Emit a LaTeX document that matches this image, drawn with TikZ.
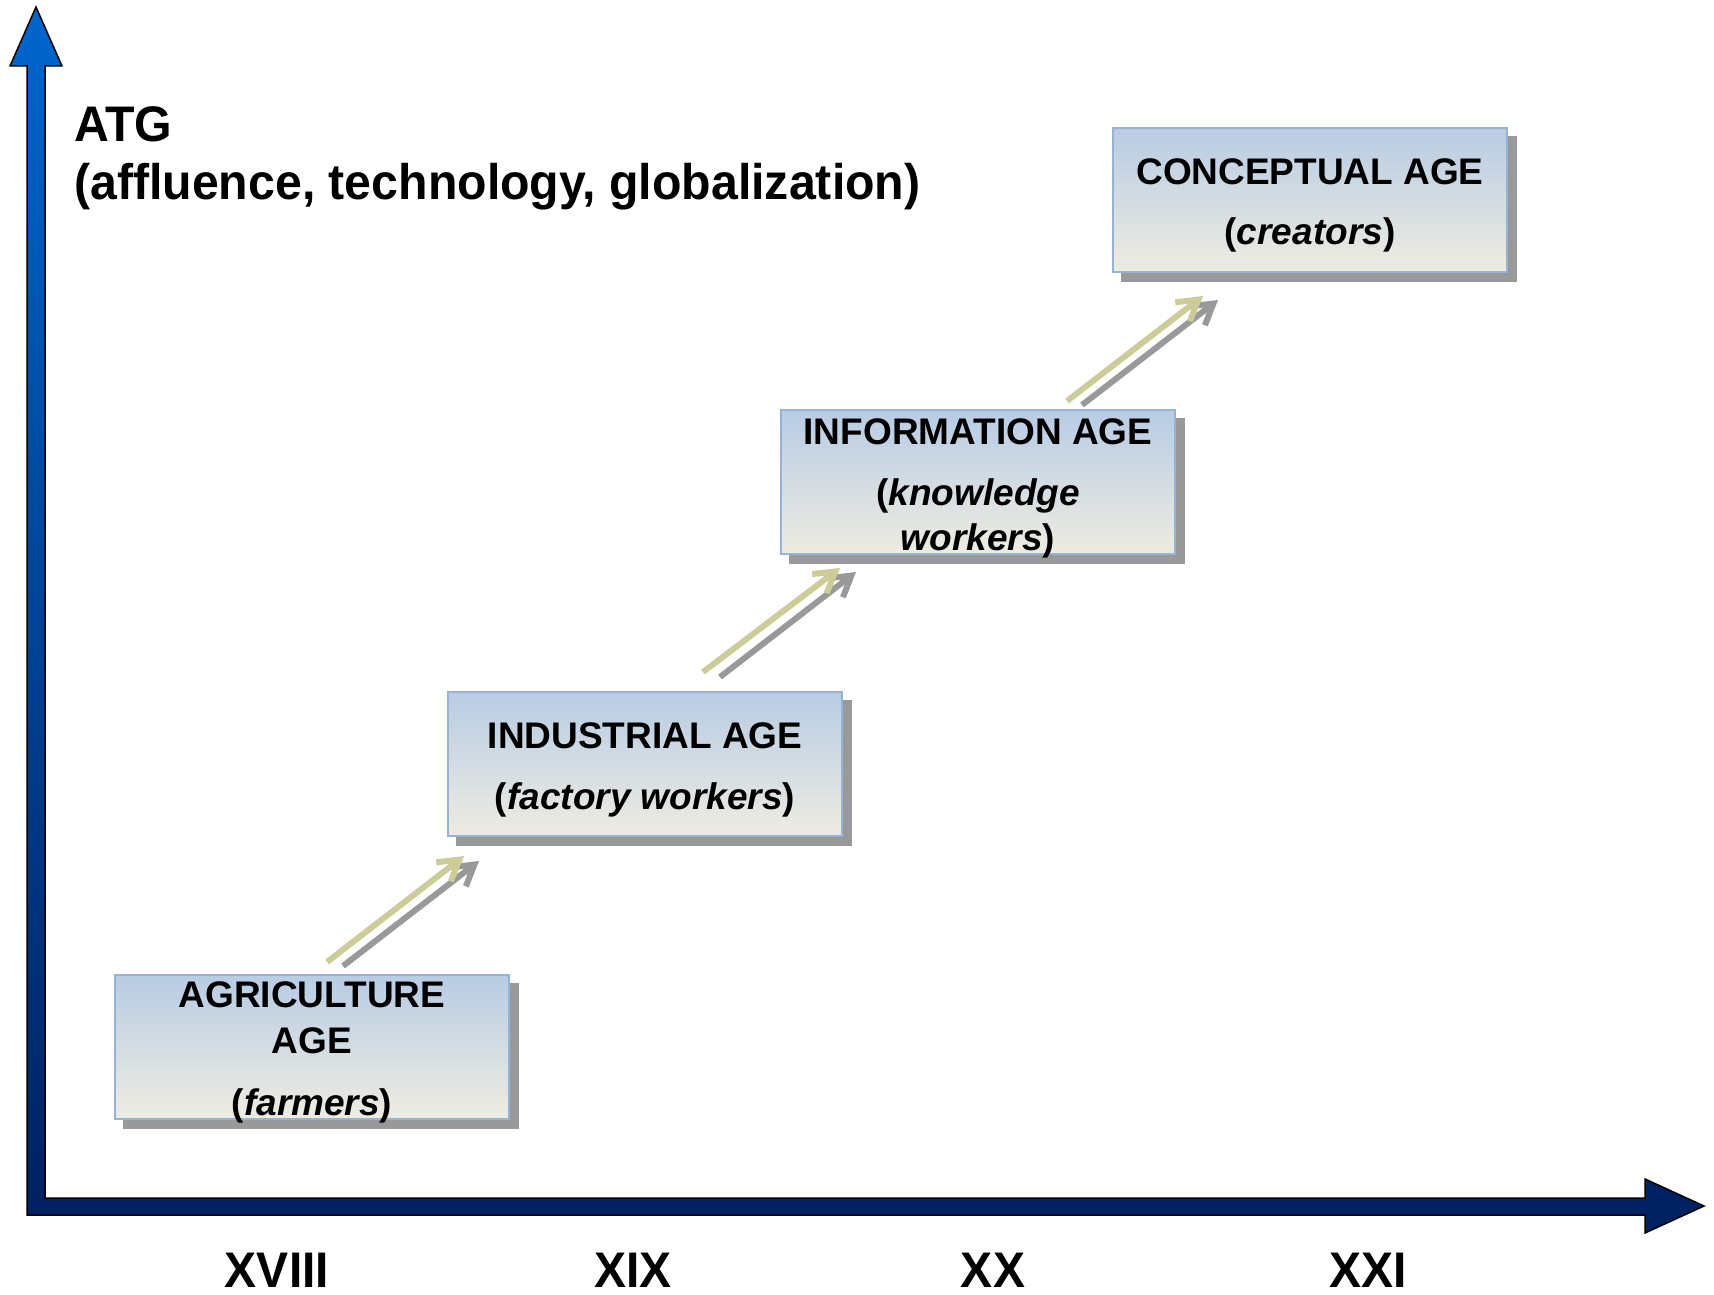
\documentclass[tikz,border=0pt]{standalone}
\usepackage{fontspec}
\setmainfont{Liberation Sans}
\usepackage{graphicx}
\usetikzlibrary{arrows.meta,calc,backgrounds}

\definecolor{axtop}{RGB}{0,102,204}
\definecolor{axbot}{RGB}{0,32,96}
\definecolor{boxtop}{RGB}{184,204,228}
\definecolor{boxbot}{RGB}{238,236,225}
\definecolor{boxline}{RGB}{149,179,215}
\definecolor{shadowgray}{RGB}{153,153,153}
\definecolor{arrowyellow}{RGB}{204,204,153}
\definecolor{arrowgray}{RGB}{153,153,153}

\begin{document}
\begin{tikzpicture}[x=1pt,y=-1pt,
  agebox/.style={rectangle, minimum width=394pt, minimum height=144pt, inner sep=0pt,
    top color=boxtop, bottom color=boxbot, draw=boxline, line width=2pt},
  boxtext/.style={anchor=base, inner sep=0pt, font=\fontsize{37}{44}\selectfont\bfseries},
  bigtext/.style={inner sep=0pt, font=\fontsize{50}{58}\selectfont\bfseries},
  stepline/.style={line width=6pt, -{Straight Barb[length=20pt,width=24pt]}},
  boxshadow/.style={fill=shadowgray},
]
\useasboundingbox (0,0) rectangle (1714,1295);

% axes
\shade[top color=axtop, bottom color=axbot, draw=black, line width=1.5pt]
  (36,7) -- (62,66) -- (45,66) -- (45,1198) -- (1645,1198) -- (1645,1179)
  -- (1704,1206) -- (1645,1233) -- (1645,1215) -- (27,1215) -- (27,66)
  -- (10,66) -- cycle;

% boxes
\node[agebox] (agri) at (312,1047) {};
\node[agebox] (ind)  at (645,764) {};
\node[agebox] (info) at (978,482) {};
\node[agebox] (conc) at (1310,200) {};

\begin{scope}[on background layer]
  \foreach \b in {agri,ind,info,conc}{
    \fill[boxshadow] ($(\b.south west)+(9,9)$) rectangle ($(\b.north east)+(9,9)$);
  }
\end{scope}

% box texts
\node[boxtext] (agri-t1) at ($(agri.north)+(0,33)$) {AGRICULTURE};
\node[boxtext] (agri-t2) at ($(agri.north)+(0,79)$) {AGE};
\node[boxtext] (agri-s)  at ($(agri.north)+(0,141)$) {(\textit{farmers})};

\node[boxtext] (ind-t)   at ($(ind.north)+(0,57)$) {INDUSTRIAL AGE};
\node[boxtext] (ind-s)   at ($(ind.north)+(0,118)$) {(\textit{factory workers})};

\node[boxtext] (info-t)  at ($(info.north)+(0,35)$) {INFORMATION AGE};
\node[boxtext] (info-s1) at ($(info.north)+(0,96)$) {(\textit{knowledge}};
\node[boxtext] (info-s2) at ($(info.north)+(0,141)$) {\textit{workers})};

\node[boxtext] (conc-t)  at ($(conc.north)+(0,57)$) {CONCEPTUAL AGE};
\node[boxtext] (conc-s)  at ($(conc.north)+(0,117)$) {(\textit{creators})};

% step arrows
\coordinate (a1gs) at (343,966);  \coordinate (a1ge) at (479,861);
\coordinate (a1ys) at (327,962);  \coordinate (a1ye) at (464,856);
\coordinate (a2gs) at (720,677);  \coordinate (a2ge) at (856,572);
\coordinate (a2ys) at (703,672);  \coordinate (a2ye) at (840,568);
\coordinate (a3gs) at (1082,405); \coordinate (a3ge) at (1218,300);
\coordinate (a3ys) at (1067,401); \coordinate (a3ye) at (1203,296);
\foreach \i in {1,2,3}{
  \draw[stepline, arrowgray]   (a\i gs) -- (a\i ge);
  \draw[stepline, arrowyellow] (a\i ys) -- (a\i ye);
}

% axis labels
\node[bigtext, anchor=base west] (atg)  at (74,142) {\scalebox{0.965}[1]{ATG}};
\node[bigtext, anchor=base west] (atg2) at (74,200) {\scalebox{0.965}[1]{(affluence, technology, globalization)}};

\node[bigtext, anchor=base] (c18) at (277,1287) {\scalebox{0.96}[1]{XVIII}};
\node[bigtext, anchor=base] (c19) at (633,1287) {\scalebox{0.96}[1]{XIX}};
\node[bigtext, anchor=base] (c20) at (993,1287) {\scalebox{0.96}[1]{XX}};
\node[bigtext, anchor=base] (c21) at (1368,1287) {\scalebox{0.96}[1]{XXI}};
\end{tikzpicture}
\end{document}
